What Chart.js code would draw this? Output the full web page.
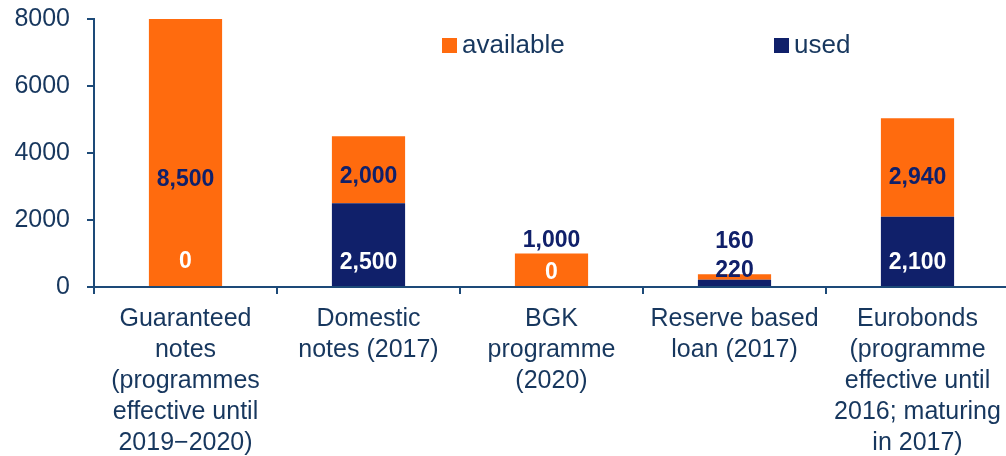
<!DOCTYPE html>
<html>
<head>
<meta charset="utf-8">
<script src="https://cdn.jsdelivr.net/npm/chart.js@4"></script>
<style>
  html, body { margin: 0; padding: 0; overflow: hidden; background: #fff; }
</style>
</head>
<body>
<canvas id="facilityChart" width="1012" height="456"></canvas>
<script>
// Categories (multi-line labels as shown under the bars)
const categories = [
    ['Guaranteed', 'notes', '(programmes', 'effective until', '2019\u22122020)'],
    ['Domestic', 'notes (2017)'],
    ['BGK', 'programme', '(2020)'],
    ['Reserve based', 'loan (2017)'],
    ['Eurobonds', '(programme', 'effective until', '2016; maturing', 'in 2017)']
];

// Series values
const usedValues = [0, 2500, 0, 220, 2100];
const availableValues = [8500, 2000, 1000, 160, 2940];

// Y-axis ticks
const yTicks = [0, 2000, 4000, 6000, 8000];

const orange = '#ff6b0e';
const navy = '#10206a';
const axisText = '#17375e';
const axisLine = '#1d4a78';
const fontFamily = '"Liberation Sans", Arial, sans-serif';

// Value labels on the segments (Excel-style placement)
const segmentLabels = {
    id: 'segmentLabels',
    afterDatasetsDraw(chart) {
        const ctx = chart.ctx;
        const y = chart.scales.y;
        const base = y.getPixelForValue(0);
        const usedMeta = chart.getDatasetMeta(0);
        ctx.save();
        ctx.font = 'bold 23px ' + fontFamily;
        ctx.textAlign = 'center';
        ctx.textBaseline = 'middle';
        usedValues.forEach((used, i) => {
            const x = usedMeta.data[i].x;
            const avail = availableValues[i];
            const total = used + avail;
            const topPx = y.getPixelForValue(Math.min(total, y.max));
            const usedTopPx = y.getPixelForValue(used);
            const usedH = base - usedTopPx;
            const availH = usedTopPx - topPx;

            // used label
            let usedY;
            if (used > 0 && usedH < 30) {
                usedY = topPx - 4;
                ctx.fillStyle = navy;
            } else if (used === 0) {
                usedY = base - Math.min(25, availH * 0.42);
                ctx.fillStyle = '#ffffff';
            } else {
                usedY = base - 24;
                ctx.fillStyle = '#ffffff';
            }
            ctx.fillText(used.toLocaleString('en-US'), x, usedY);

            // available label
            const visible = Math.min(total, y.max) - used;
            let availY;
            if (availH >= 40) {
                availY = y.getPixelForValue(used + visible * 0.4);
            } else if (used > 0 && usedH < 30) {
                availY = usedY - 29;
            } else {
                availY = topPx - 13;
            }
            ctx.fillStyle = navy;
            ctx.fillText(avail.toLocaleString('en-US'), x, availY);
        });
        ctx.restore();
    }
};

// Legend drawn inside the plot area
const insideLegend = {
    id: 'insideLegend',
    afterDraw(chart) {
        const ctx = chart.ctx;
        const items = [
            { ds: chart.data.datasets[1], x: 442 },
            { ds: chart.data.datasets[0], x: 774 }
        ];
        ctx.save();
        ctx.font = '26px ' + fontFamily;
        ctx.textBaseline = 'middle';
        ctx.textAlign = 'left';
        items.forEach(item => {
            ctx.fillStyle = item.ds.backgroundColor;
            ctx.fillRect(item.x, 38, 15, 15);
            ctx.fillStyle = axisText;
            ctx.fillText(item.ds.label, item.x + 20, 46);
        });
        ctx.restore();
    }
};

const facilityChartContext = document.getElementById('facilityChart').getContext('2d');

new Chart(facilityChartContext, {
    type: 'bar',
    data: {
        labels: categories,
        datasets: [
            {
                label: 'used',
                data: usedValues,
                backgroundColor: navy,
                barPercentage: 0.8,
                categoryPercentage: 0.5
            },
            {
                label: 'available',
                data: availableValues,
                backgroundColor: orange,
                barPercentage: 0.8,
                categoryPercentage: 0.5
            }
        ]
    },
    options: {
        responsive: false,
        devicePixelRatio: 1,
        animation: false,
        layout: { padding: { top: 19, right: 3, left: 0, bottom: 0 } },
        plugins: {
            legend: { display: false },
            tooltip: { enabled: false }
        },
        scales: {
            x: {
                stacked: true,
                afterFit(scale) {
                    scale.height = 169;
                    scale.paddingLeft = 0;
                    scale.paddingRight = 0;
                },
                grid: {
                    drawOnChartArea: false,
                    drawTicks: true,
                    tickLength: 7,
                    color: axisLine,
                    lineWidth: 2
                },
                border: { display: true, color: axisLine, width: 2 },
                ticks: {
                    color: axisText,
                    padding: 10,
                    maxRotation: 0,
                    autoSkip: false,
                    font: { family: fontFamily, size: 25, lineHeight: 1.24 }
                }
            },
            y: {
                stacked: true,
                min: 0,
                max: 8000,
                afterFit(scale) {
                    scale.width = 94;
                    scale.paddingTop = 0;
                    scale.paddingBottom = 0;
                },
                afterBuildTicks(scale) { scale.ticks = yTicks.map(v => ({ value: v })); },
                grid: {
                    drawOnChartArea: false,
                    drawTicks: true,
                    tickLength: 7,
                    color: axisLine,
                    lineWidth: 2
                },
                border: { display: true, color: axisLine, width: 2 },
                ticks: {
                    color: axisText,
                    padding: 17,
                    font: { family: fontFamily, size: 25 },
                    callback: value => String(value)
                }
            }
        }
    },
    plugins: [segmentLabels, insideLegend]
});
</script>
</body>
</html>
